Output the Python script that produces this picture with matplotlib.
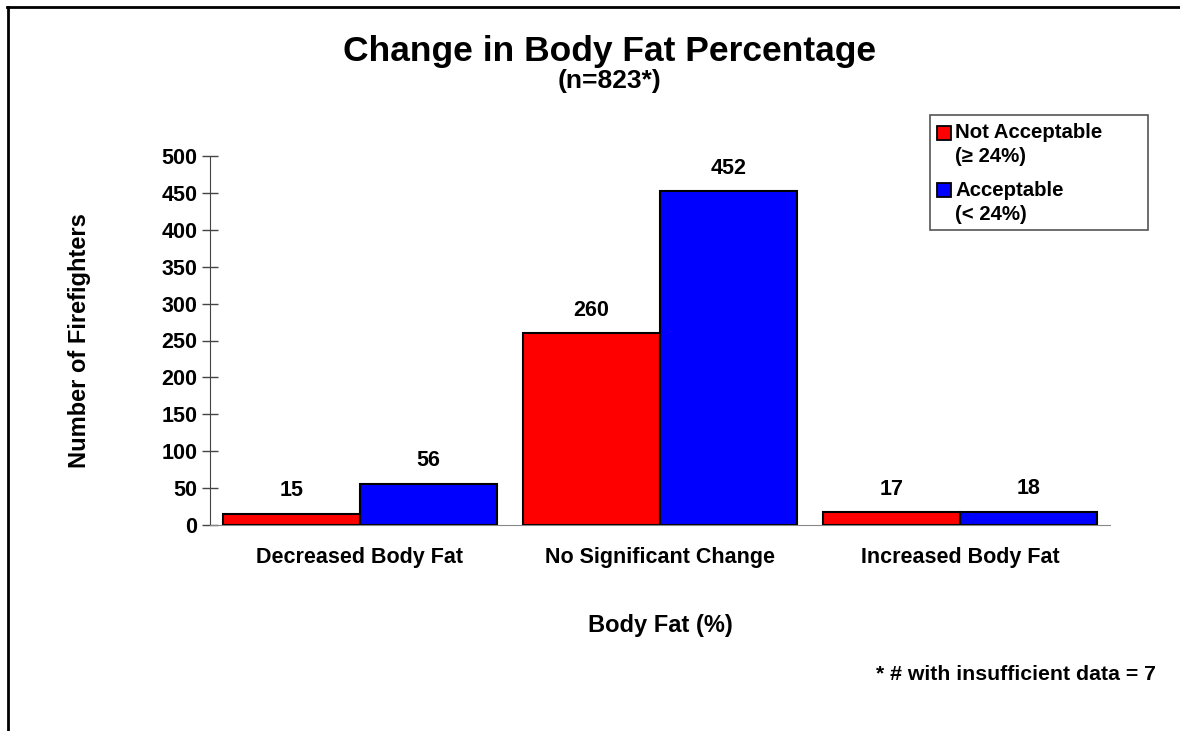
import matplotlib
matplotlib.use("Agg")
import matplotlib.pyplot as plt
from matplotlib.lines import Line2D
from matplotlib.patches import Rectangle
import numpy as np

plt.rcParams['font.family'] = ['Liberation Sans', 'DejaVu Sans']
plt.rcParams['font.weight'] = 'bold'

categories = ["Decreased Body Fat", "No Significant Change", "Increased Body Fat"]
not_acceptable = [15, 260, 17]
acceptable = [56, 452, 18]
series_labels = [["Not Acceptable", "(\u2265 24%)"], ["Acceptable", "(< 24%)"]]
series_colors = ['#ff0000', '#0000ff']
yticks = [0, 50, 100, 150, 200, 250, 300, 350, 400, 450, 500]

W, H = 1180, 731
fig = plt.figure(figsize=(W / 100, H / 100), dpi=100)


def fx(px):
    return px / W


def fy(py):
    return 1 - py / H


ax = fig.add_axes([fx(210), fy(525), fx(1110) - fx(210), fy(156) - fy(525)])

x = np.arange(len(categories))
w = 0.457
b1 = ax.bar(x - w / 2, not_acceptable, w, color=series_colors[0], edgecolor='black', linewidth=1.5)
b2 = ax.bar(x + w / 2, acceptable, w, color=series_colors[1], edgecolor='black', linewidth=1.5)

for bars, vals in ((b1, not_acceptable), (b2, acceptable)):
    for r, v in zip(bars, vals):
        ax.annotate(str(v), (r.get_x() + r.get_width() / 2, v), xytext=(0, 9),
                    textcoords='offset points', ha='center', va='bottom',
                    fontsize=15.5, fontweight='bold')

ax.set_xlim(-0.5, 2.5)
ax.set_ylim(0, 500)
ax.set_yticks(yticks)
ax.set_yticklabels([str(t) for t in yticks], fontsize=15.5, fontweight='bold')
ax.set_xticks(x)
ax.set_xticklabels(categories, fontsize=15.5, fontweight='bold')
ax.tick_params(axis='x', length=0, pad=16)
ax.tick_params(axis='y', direction='inout', length=12, width=1, color='#444444', pad=3)
for s in ('top', 'right'):
    ax.spines[s].set_visible(False)
ax.spines['left'].set_color('#444444')
ax.spines['bottom'].set_color('#888888')

ax.set_xlabel("Body Fat (%)", fontsize=17, fontweight='bold', labelpad=33)
ax.set_ylabel("Number of Firefighters", fontsize=17, fontweight='bold', labelpad=51)

fig.text(0.5165, fy(51), "Change in Body Fat Percentage", ha='center', va='center',
         fontsize=25.5, fontweight='bold')
fig.text(0.5165, fy(81), "(n=823*)", ha='center', va='center', fontsize=19, fontweight='bold')

# legend (drawn as a box with swatches and texts)
fig.add_artist(Rectangle((fx(930), fy(230)), fx(1148) - fx(930), fy(115) - fy(230),
                         transform=fig.transFigure, facecolor='white', edgecolor='#555555',
                         linewidth=1.2))
entry_y = [133, 190]
for yc, col, lab in zip(entry_y, series_colors, series_labels):
    fig.add_artist(Rectangle((fx(937), fy(yc + 7)), fx(14), 14 / H, transform=fig.transFigure,
                             facecolor=col, edgecolor='black', linewidth=1.3))
    fig.text(fx(955), fy(yc), lab[0], ha='left', va='center', fontsize=14.7, fontweight='bold')
    fig.text(fx(955), fy(yc + 24), lab[1], ha='left', va='center', fontsize=14.7, fontweight='bold')

fig.text(fx(1156), fy(674), "* # with insufficient data = 7", ha='right', va='center',
         fontsize=15.3, fontweight='bold')

fig.add_artist(Line2D([fx(7), 1.0], [fy(6.5), fy(6.5)], transform=fig.transFigure,
                      color='black', linewidth=2))
fig.add_artist(Line2D([fx(7.5), fx(7.5)], [0.0, fy(6.5)], transform=fig.transFigure,
                      color='black', linewidth=2))

fig.savefig("out.png", dpi=100)
